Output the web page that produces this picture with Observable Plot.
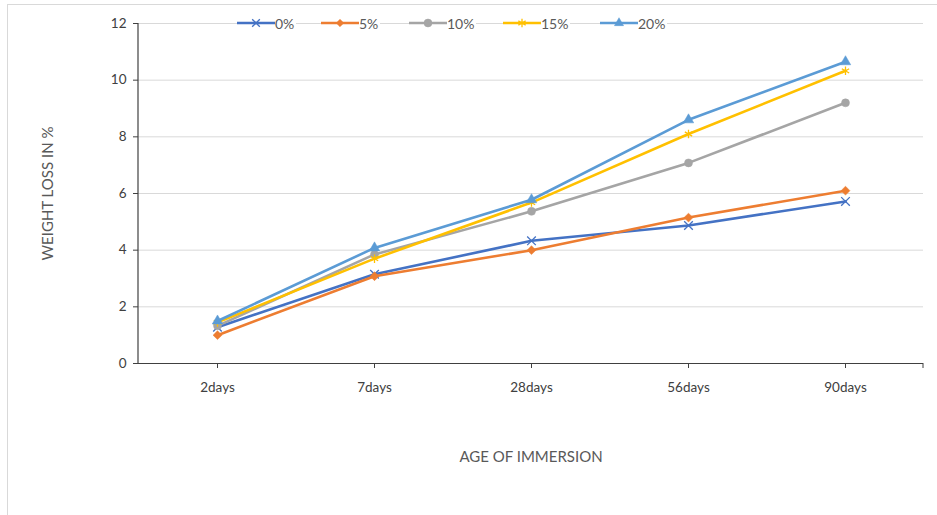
<!DOCTYPE html>
<html>
<head>
<meta charset="utf-8">
<script src="https://cdn.jsdelivr.net/npm/d3@7"></script>
<script src="https://cdn.jsdelivr.net/npm/@observablehq/plot@0.6"></script>
<style>
  html, body { margin: 0; padding: 0; background: #fff; }
  #wrap { position: relative; width: 937px; height: 515px; overflow: hidden; font-family: Lato, "Open Sans", sans-serif; }
  #border { position: absolute; left: 7px; top: 4px; right: -2px; bottom: -2px; border-left: 1px solid #d9d9d9; border-top: 1px solid #d9d9d9; pointer-events: none; }
  #legend { position: absolute; left: 0; top: 14px; width: 937px; height: 18px; font-size: 14px; color: #595959; pointer-events: none; }
  .item { position: absolute; top: 0; height: 18px; display: flex; align-items: center; background: #fff; padding-right: 2px; }
  .item svg { display: block; }
</style>
</head>
<body>
<div id="wrap">
  <div id="chart"></div>
  <div id="border"></div>
  <div id="legend"></div>
</div>
<script>
const categories = ["2days", "7days", "28days", "56days", "90days"];
const seriesNames = ["0%", "5%", "10%", "15%", "20%"];
const s0 = [1.28, 3.15, 4.33, 4.87, 5.72];
const s5 = [1.0, 3.08, 4.0, 5.15, 6.1];
const s10 = [1.33, 3.85, 5.37, 7.08, 9.2];
const s15 = [1.45, 3.7, 5.68, 8.1, 10.33];
const s20 = [1.5, 4.08, 5.78, 8.6, 10.65];
const yTicks = [0, 2, 4, 6, 8, 10, 12];

const seriesValues = [s0, s5, s10, s15, s20];
const colors = ["#4472C4", "#ED7D31", "#A5A5A5", "#FFC000", "#5B9BD5"];
const symbols = ["times", "diamond2", "circle", "asterisk", "triangle2"];
const d3Symbols = [d3.symbolTimes, d3.symbolDiamond2, d3.symbolCircle, d3.symbolAsterisk, d3.symbolTriangle2];
const symbolSizes = [40, 36, 50, 50, 60];
const filled = [false, true, true, false, true];
const legendLeft = [237, 321, 409, 503, 600];

const data = [];
seriesNames.forEach((s, i) => {
  categories.forEach((c, j) => data.push({series: s, cat: c, value: seriesValues[i][j]}));
});

const textColor = "#595959";

const lineMarks = [];
seriesNames.forEach((s, i) => {
  const d = data.filter(r => r.series === s);
  lineMarks.push(Plot.line(d, {x: "cat", y: "value", stroke: colors[i], strokeWidth: 2.6}));
  lineMarks.push(Plot.dot(d, {
    x: "cat", y: "value", symbol: () => symbols[i], r: i === 4 ? 5 : 4,
    fill: filled[i] ? colors[i] : "none",
    stroke: colors[i], strokeWidth: filled[i] ? 0.5 : 1.3
  }));
});

const leftAxisLine = (index, scales, values, dims) => {
  const g = d3.create("svg:g");
  g.append("line")
    .attr("x1", dims.marginLeft).attr("x2", dims.marginLeft)
    .attr("y1", dims.marginTop).attr("y2", dims.height - dims.marginBottom)
    .attr("stroke", "#404040").attr("stroke-width", 1.2);
  g.append("line")
    .attr("x1", dims.width - dims.marginRight).attr("x2", dims.width - dims.marginRight)
    .attr("y1", dims.height - dims.marginBottom).attr("y2", dims.height - dims.marginBottom + 5)
    .attr("stroke", "#404040").attr("stroke-width", 1);
  return g.node();
};

const plot = Plot.plot({
  width: 937,
  height: 515,
  marginLeft: 138,
  marginRight: 14,
  marginTop: 23,
  marginBottom: 152,
  style: {fontFamily: "Lato, 'Open Sans', sans-serif", fontSize: "13px", color: textColor, background: "transparent"},
  x: {type: "point", domain: categories, padding: 0.5, label: null},
  y: {domain: [0, 12], label: null},
  marks: [
    Plot.gridY(yTicks, {stroke: "#d9d9d9", strokeOpacity: 1, strokeWidth: 1}),
    Plot.axisY(yTicks, {tickSize: 5, tickPadding: 7, stroke: "#404040", fill: "#404040", fontSize: 13.5}),
    Plot.axisX({tickSize: 5, tickPadding: 14, stroke: "#404040", fill: "#404040", fontSize: 13.5}),
    Plot.ruleY([0], {stroke: "#404040", strokeWidth: 1.2}),
    leftAxisLine,
    ...lineMarks,
    Plot.text(["AGE OF IMMERSION"], {frameAnchor: "bottom", dy: 98, fontSize: 15, fill: textColor}),
    Plot.text(["WEIGHT LOSS IN %"], {frameAnchor: "left", textAnchor: "middle", dx: -90, rotate: -90, fontSize: 15, fill: textColor})
  ]
});
document.getElementById("chart").appendChild(plot);

// Legend
const legend = d3.select("#legend");
seriesNames.forEach((s, i) => {
  const item = legend.append("div").attr("class", "item").style("left", legendLeft[i] + "px");
  const svg = item.append("svg").attr("width", 38).attr("height", 14);
  svg.append("line").attr("x1", 0).attr("x2", 38).attr("y1", 7).attr("y2", 7)
    .attr("stroke", colors[i]).attr("stroke-width", 2.6);
  svg.append("path")
    .attr("d", d3.symbol(d3Symbols[i], symbolSizes[i])())
    .attr("transform", "translate(19,7)")
    .attr("fill", filled[i] ? colors[i] : "none")
    .attr("stroke", colors[i]).attr("stroke-width", filled[i] ? 0.5 : 1.3);
  item.append("span").text(s);
});
</script>
</body>
</html>
